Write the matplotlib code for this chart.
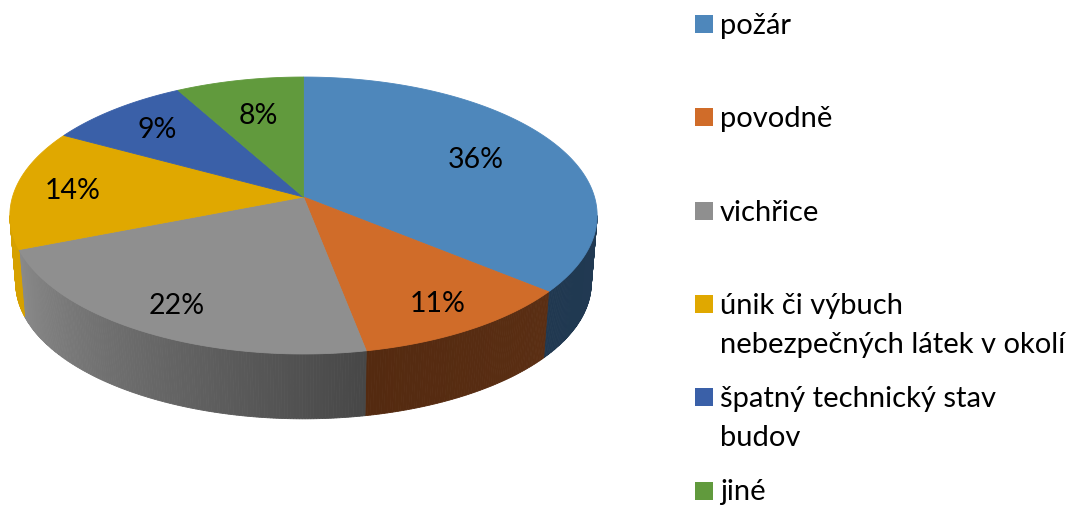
import numpy as np
import matplotlib
matplotlib.use("Agg")
import matplotlib.pyplot as plt
from matplotlib.colors import to_rgb
from matplotlib.patches import Polygon, Rectangle

# data
categories = [
    "požár",
    "povodně",
    "vichřice",
    "únik či výbuch\nnebezpečných látek v okolí",
    "špatný technický stav\nbudov",
    "jiné",
]
shares = [36, 11, 22, 14, 9, 8]
labels = [f"{v}%" for v in shares]

top_colors = ["#4e87bb", "#d06c29", "#8f8f8f", "#e0a800", "#3a60a8", "#619a3d"]
# side wall colours (start, end) along the rim
side_colors = [
    ("#213a53", "#203850"),
    ("#5a2e13", "#542a10"),
    ("#474747", "#8a8a8a"),
    ("#d6a100", "#d6a100"),
    ("#2a4678", "#2a4678"),
    ("#476f2c", "#476f2c"),
]
label_r = [0.68, 0.82, 0.82, 0.8, 0.76, 0.68]

# layout (pixels)
W, H = 1074, 506
CX, CY = 303.5, 198.0
RX, RY = 291.0, 136.0
K = 0.1336          # perspective
DEPTH = 68.0
SHRINK = 0.98
FONT = ["Lato", "DejaVu Sans"]


def rim(theta, r=1.0, bottom=False):
    c, s = np.cos(theta), np.sin(theta)
    den = 1 + K * r * c
    x = RX * r * s / den
    y = -RY * r * c / den
    if bottom:
        return CX + x * SHRINK, CY + DEPTH + y * SHRINK
    return CX + x, CY + y


fig = plt.figure(figsize=(W / 100, H / 100), dpi=100)
ax = fig.add_axes([0, 0, 1, 1])
ax.set_xlim(0, W)
ax.set_ylim(H, 0)
ax.axis("off")

fracs = np.array(shares, dtype=float) / sum(shares)
bounds = np.concatenate([[0], np.cumsum(fracs)]) * 2 * np.pi

# side walls (front half between the silhouette angles)
t_right = np.arccos(-K)
t_left = 2 * np.pi - t_right
for i in range(len(shares)):
    a0, a1 = max(bounds[i], t_right), min(bounds[i + 1], t_left)
    if a1 <= a0:
        continue
    n = max(2, int(2 * np.degrees(a1 - a0)))
    ts = np.linspace(a0, a1, n + 1)
    c0, c1 = np.array(to_rgb(side_colors[i][0])), np.array(to_rgb(side_colors[i][1]))
    for j in range(n):
        seg = np.linspace(ts[j], ts[j + 1], 3)
        tx, ty = rim(seg)
        bx, by = rim(seg, bottom=True)
        pts = np.column_stack([np.r_[tx, bx[::-1]], np.r_[ty, by[::-1]]])
        f = (j + 0.5) / n
        col = c0 + (c1 - c0) * f
        ax.add_patch(Polygon(pts, closed=True, facecolor=col, edgecolor=col, lw=0.6))

# top faces
for i in range(len(shares)):
    ts = np.linspace(bounds[i], bounds[i + 1], 200)
    x, y = rim(ts)
    pts = np.column_stack([np.r_[CX, x], np.r_[CY, y]])
    ax.add_patch(Polygon(pts, closed=True, facecolor=top_colors[i],
                         edgecolor=top_colors[i], lw=0.6))

# percentage labels
for i, lab in enumerate(labels):
    mid = (bounds[i] + bounds[i + 1]) / 2
    lx, ly = rim(mid, r=label_r[i])
    ax.text(lx, ly, lab, ha="center", va="center", fontsize=20.5,
            family=FONT, color="black")

# legend
LEG_X, LEG_Y0, LEG_STEP, LINE_H, SQ = 695, 34, 93.3, 39, 18
for i, cat in enumerate(categories):
    base = LEG_Y0 + i * LEG_STEP
    ax.add_patch(Rectangle((LEG_X, base - SQ), SQ, SQ, facecolor=top_colors[i],
                           edgecolor="none"))
    for j, line in enumerate(cat.split("\n")):
        ax.text(LEG_X + 25, base + j * LINE_H, line, ha="left", va="baseline",
                fontsize=21, family=FONT, color="black")

fig.savefig("out.png", dpi=100)
